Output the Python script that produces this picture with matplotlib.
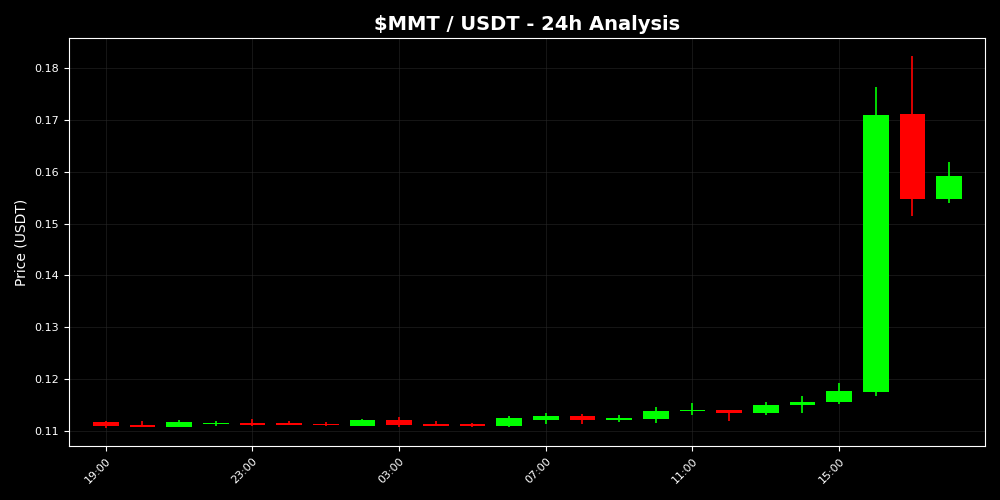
import numpy as np
import pandas as pd
import matplotlib
matplotlib.use("Agg")
import matplotlib.pyplot as plt
import matplotlib.dates as mdates

# hourly candles, 19:00 -> 18:00 next day
times = pd.date_range("2025-11-04 19:00", periods=24, freq="h")
opens = [0.11167, 0.11121, 0.11077, 0.1114, 0.1116, 0.1116, 0.1114, 0.1110,
         0.1121, 0.1114, 0.1114, 0.1110, 0.1121, 0.1128, 0.1122, 0.1124,
         0.1139, 0.1140, 0.1134, 0.1150, 0.1155, 0.1176, 0.1711, 0.1548]
closes = [0.11096, 0.11071, 0.11168, 0.1116, 0.1112, 0.1112, 0.1112, 0.1122,
          0.1112, 0.1110, 0.1110, 0.1125, 0.1128, 0.1121, 0.1125, 0.1139,
          0.1141, 0.1135, 0.1151, 0.1156, 0.1177, 0.1709, 0.1548, 0.1592]
highs = [0.1120, 0.1120, 0.1121, 0.1120, 0.1124, 0.1120, 0.1118, 0.1124,
         0.1126, 0.1119, 0.1116, 0.1128, 0.1134, 0.1132, 0.1130, 0.1147,
         0.1153, 0.1141, 0.1155, 0.1168, 0.1193, 0.1764, 0.1823, 0.1619]
lows = [0.1105, 0.1107, 0.1107, 0.1110, 0.1110, 0.1111, 0.1109, 0.1110,
        0.1108, 0.1110, 0.1107, 0.1108, 0.1114, 0.1113, 0.1117, 0.1115,
        0.1131, 0.1119, 0.1131, 0.1135, 0.1152, 0.1167, 0.1515, 0.1539]

x = mdates.date2num(times)
width = 0.7 / 24

fig, ax = plt.subplots(figsize=(10, 5), dpi=100)
fig.patch.set_facecolor("black")
ax.set_facecolor("black")

for xi, o, c, h, l in zip(x, opens, closes, highs, lows):
    col = "#00ff00" if c >= o else "#ff0000"
    ax.vlines(xi, l, h, color=col, linewidth=1.2, zorder=2)
    ax.bar(xi, abs(c - o), width, bottom=min(o, c), color=col, zorder=3)

ax.set_xlim(x[0] - 1.0 / 24, x[-1] + 0.98 / 24)
ax.set_ylim(0.1071, 0.1858)

ax.xaxis.set_major_locator(mdates.HourLocator(byhour=range(3, 24, 4)))
ax.xaxis.set_major_formatter(mdates.DateFormatter("%H:%M"))
plt.setp(ax.get_xticklabels(), rotation=45, ha="right", rotation_mode="anchor")

ax.grid(True, color="#2a2a2a", linewidth=0.6, alpha=0.6)
ax.set_axisbelow(True)
for s in ax.spines.values():
    s.set_color("white")
ax.tick_params(colors="white", labelsize=8)
ax.set_ylabel("Price (USDT)", color="white", fontsize=10)
ax.set_title("$MMT / USDT - 24h Analysis", color="white", fontsize=14, fontweight="bold")

fig.subplots_adjust(left=0.069, right=0.985, top=0.924, bottom=0.108)
fig.savefig("out.png", facecolor=fig.get_facecolor())
